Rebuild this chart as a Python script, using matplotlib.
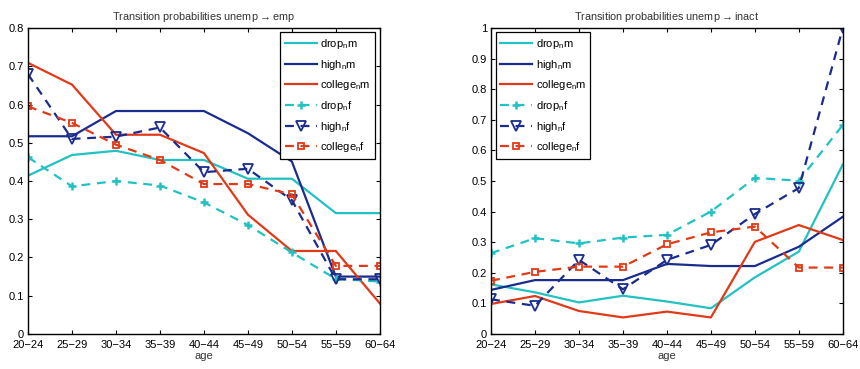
import matplotlib.pyplot as plt

ages = ['20\u221224', '25\u221229', '30\u221234', '35\u221239', '40\u221244',
        '45\u221249', '50\u221254', '55\u221259', '60\u221264']

# unemp -> emp
emp_drop_m = [0.414, 0.468, 0.479, 0.455, 0.455, 0.406, 0.406, 0.316, 0.316]
emp_high_m = [0.517, 0.517, 0.583, 0.583, 0.583, 0.525, 0.451, 0.150, 0.150]
emp_college_m = [0.709, 0.652, 0.521, 0.521, 0.473, 0.312, 0.217, 0.217, 0.080]
emp_drop_f = [0.462, 0.386, 0.400, 0.388, 0.344, 0.285, 0.213, 0.144, 0.137]
emp_high_f = [0.679, 0.510, 0.516, 0.540, 0.423, 0.432, 0.350, 0.143, 0.143]
emp_college_f = [0.595, 0.552, 0.495, 0.455, 0.392, 0.392, 0.365, 0.178, 0.178]

# unemp -> inact
ina_drop_m = [0.162, 0.136, 0.103, 0.125, 0.106, 0.084, 0.185, 0.269, 0.554]
ina_high_m = [0.144, 0.176, 0.176, 0.176, 0.229, 0.222, 0.222, 0.285, 0.383]
ina_college_m = [0.098, 0.124, 0.075, 0.054, 0.073, 0.054, 0.301, 0.356, 0.307]
ina_drop_f = [0.264, 0.313, 0.296, 0.315, 0.324, 0.400, 0.510, 0.501, 0.683]
ina_high_f = [0.113, 0.092, 0.242, 0.146, 0.242, 0.291, 0.392, 0.477, 1.0]
ina_college_f = [0.174, 0.203, 0.220, 0.220, 0.293, 0.332, 0.351, 0.217, 0.217]

cyan = '#22C2C2'
blue = '#1A2C8C'
red = '#E03A18'

labels = ['drop$_{\\mathrm{n}}$m', 'high$_{\\mathrm{n}}$m', 'college$_{\\mathrm{n}}$m',
          'drop$_{\\mathrm{n}}$f', 'high$_{\\mathrm{n}}$f', 'college$_{\\mathrm{n}}$f']

plt.rcParams['font.family'] = ['Liberation Sans', 'DejaVu Sans']
plt.rcParams['mathtext.fontset'] = 'custom'
plt.rcParams['mathtext.rm'] = 'Liberation Sans'

fig = plt.figure(figsize=(8.6, 3.69), dpi=100)
ax1 = fig.add_axes([0.0326, 0.095, 0.409, 0.829])
ax2 = fig.add_axes([0.571, 0.095, 0.409, 0.829])


def draw(ax, series, title, ymax, yticks, legloc):
    x = range(len(ages))
    styles = [(cyan, '-', None), (blue, '-', None), (red, '-', None),
              (cyan, '--', '+'), (blue, '--', 'v'), (red, '--', 's')]
    for s, (c, ls, m), lab in zip(series, styles, labels):
        ms = {'+': 6, 'v': 6.5, 's': 5}.get(m, 0)
        ax.plot(x, s, color=c, ls=ls, lw=1.6, marker=m, ms=ms,
                mfc='none', mec=c, mew=1.8 if m == '+' else 1.3,
                label=lab, dashes=(4, 3) if ls == '--' else (None, None))
    ax.set_xlim(0, len(ages) - 1)
    ax.set_ylim(0, ymax)
    ax.set_yticks(yticks)
    ax.set_yticklabels([('%g' % v) for v in yticks])
    ax.set_xticks(list(x))
    ax.set_xticklabels(ages)
    ax.tick_params(direction='in', top=True, right=True, labelsize=8, length=3, pad=3)
    ax.tick_params(axis='x', pad=4)
    ax.set_xlabel('age', fontsize=8, color='#333333', labelpad=1)
    ax.set_title(title, fontsize=7.8, color='#333333', pad=6)
    for sp in ax.spines.values():
        sp.set_linewidth(1.0)
    leg = ax.legend(loc=legloc, fontsize=8, handlelength=2.9, handletextpad=0.3,
                    labelspacing=0.6, borderpad=0.4, fancybox=False, framealpha=1,
                    edgecolor='black', borderaxespad=0.4)
    leg.get_frame().set_linewidth(0.9)


draw(ax1, [emp_drop_m, emp_high_m, emp_college_m, emp_drop_f, emp_high_f, emp_college_f],
     'Transition probabilities unemp$\\rightarrow$emp', 0.8,
     [0, 0.1, 0.2, 0.3, 0.4, 0.5, 0.6, 0.7, 0.8], 'upper right')
draw(ax2, [ina_drop_m, ina_high_m, ina_college_m, ina_drop_f, ina_high_f, ina_college_f],
     'Transition probabilities unemp$\\rightarrow$inact', 1.0,
     [0, 0.1, 0.2, 0.3, 0.4, 0.5, 0.6, 0.7, 0.8, 0.9, 1.0], 'upper left')

fig.savefig('out.png', dpi=100)
